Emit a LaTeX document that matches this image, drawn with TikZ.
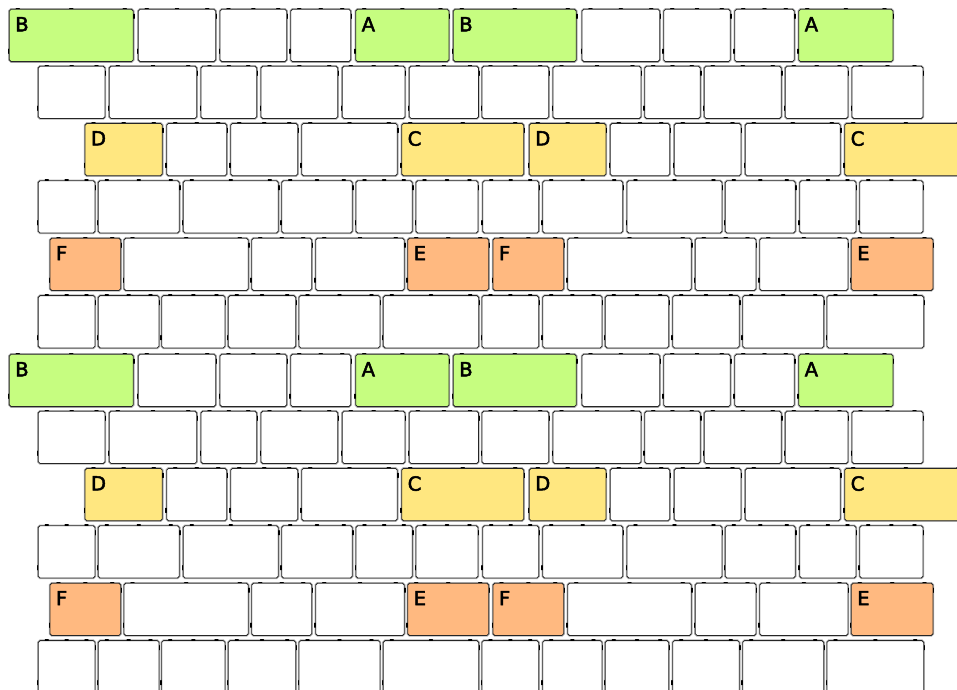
\documentclass[tikz,border=0pt]{standalone}
\usepackage{fontspec}
\setmainfont{DejaVu Sans}
\definecolor{cg}{RGB}{198,253,128}
\definecolor{cy}{RGB}{255,231,128}
\definecolor{co}{RGB}{255,185,128}
\newcounter{lb}
\newcommand\heavy[1]{\special{pdf:literal 2 Tr 0.5 w}#1\special{pdf:literal 0 Tr}}
\tikzset{
  boxglow/.style={draw=black!30, line width=2.4pt, rounded corners=1.8pt},
  boxline/.style={draw=black!85, line width=0.8pt, rounded corners=1.8pt},
  tickmark/.style={draw=black, line width=1.4pt, line cap=round},
  lbl/.style={anchor=north west, inner sep=0pt, font=\fontsize{19.5}{19.5}\selectfont}
}
\newcommand\wbx[4]{% x1, x2, top, fill
  \path[boxglow] ({#1},{#3}) rectangle ({#2},{#3+52.3});
  \path[boxline, fill=#4] ({#1},{#3}) rectangle ({#2},{#3+52.3});
  \path[tickmark] ({#1+7},{#3-0.7}) -- ({#1+10},{#3-0.7});
  \path[tickmark] ({(#1+#2)/2-1.5},{#3-0.7}) -- ({(#1+#2)/2+1.5},{#3-0.7});
  \path[tickmark] ({#2-10},{#3-0.7}) -- ({#2-7},{#3-0.7});
  \path[tickmark] ({#2+0.7},{#3+5}) -- ({#2+0.7},{#3+9});
  \path[tickmark] ({#1-0.7},{#3+40}) -- ({#1-0.7},{#3+44});
}
\newcommand\cbx[5]{% x1, x2, top, colour, label
  \wbx{#1}{#2}{#3}{#4}
  \stepcounter{lb}
  \node[lbl] (lab\arabic{lb}) at ({#1+5.8},{#3+7.6}) {\heavy{#5}};
}
\begin{document}
\begin{tikzpicture}[x=1pt,y=-1pt]
\useasboundingbox (0,0) rectangle (957,689);
\fill[white] (0,0) rectangle (957,689);
\clip (0,0) rectangle (957,689);
\foreach \off in {0,345}{
  % row 1
  \foreach \a/\b in {138.3/215.7,220/286.7,290.7/350.7,582/659.7,663.7/730.3,734.7/794.3}
    {\wbx{\a}{\b}{\off+9.3}{white}}
  \cbx{9.3}{133.3}{\off+9.3}{cg}{B}
  \cbx{355.7}{449}{\off+9.3}{cg}{A}
  \cbx{453.3}{576.3}{\off+9.3}{cg}{B}
  \cbx{798.7}{893}{\off+9.3}{cg}{A}
  % row 2
  \foreach \a/\b in {38.3/105,109.3/196.7,201/256.7,261/337.7,342.3/405,409.3/478.5,482/548.7,553/641,644.7/700.3,704.3/781.3,785.3/848,852/923}
    {\wbx{\a}{\b}{\off+66.2}{white}}
  % row 3
  \foreach \a/\b in {166.7/226.7,230.7/297.7,301.7/397.3,610.3/669.7,674.3/741,745.3/840.3}
    {\wbx{\a}{\b}{\off+123.4}{white}}
  \cbx{85}{162.3}{\off+123.4}{cy}{D}
  \cbx{401.7}{523.7}{\off+123.4}{cy}{C}
  \cbx{529.3}{606}{\off+123.4}{cy}{D}
  \cbx{844.7}{967}{\off+123.4}{cy}{C}
  % row 4
  \foreach \a/\b in {38.3/95,98.3/179.3,183.3/278.3,281.7/352.3,356/412.3,416/478,482.7/538.7,542.7/622.7,627/722,725.3/795.3,799.7/856,859.7/923}
    {\wbx{\a}{\b}{\off+180.7}{white}}
  % row 5
  \foreach \a/\b in {124/248.3,251.7/311.7,315.7/404.3,567.7/691.3,695.3/756,759.7/848}
    {\wbx{\a}{\b}{\off+238.2}{white}}
  \cbx{50}{120.7}{\off+238.2}{co}{F}
  \cbx{407.7}{488.7}{\off+238.2}{co}{E}
  \cbx{493}{563.7}{\off+238.2}{co}{F}
  \cbx{851.3}{933}{\off+238.2}{co}{E}
  % row 6
  \foreach \a/\b in {38.3/95,98.3/159,161.7/225,228.3/295.7,299/380,383.3/478.7,482/538.7,542.7/602,605.3/668.7,672.7/739.3,742.7/823.7,827/923.7}
    {\wbx{\a}{\b}{\off+295.6}{white}}
}
\end{tikzpicture}
\end{document}
